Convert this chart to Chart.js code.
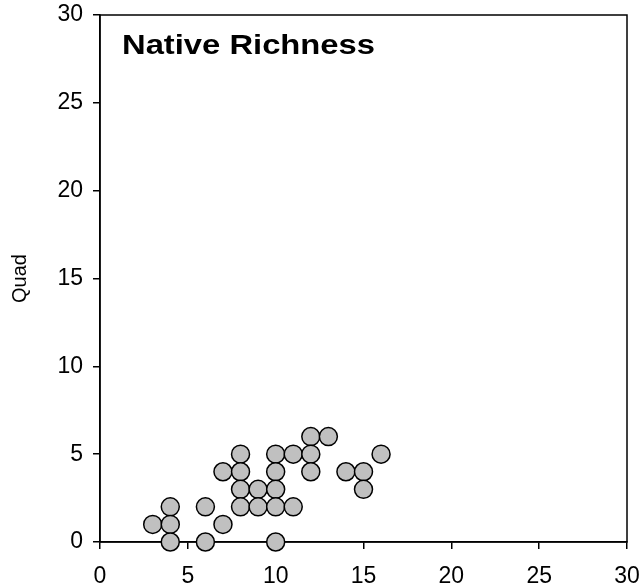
<!DOCTYPE html>
<html>
<head>
<meta charset="utf-8">
<title>Native Richness</title>
<script src="https://cdn.jsdelivr.net/npm/chart.js@4/dist/chart.umd.min.js"></script>
<style>
  html, body { margin: 0; padding: 0; background: #fff; }
  #wrap { width: 640px; height: 587px; }
</style>
</head>
<body>
<div id="wrap"><canvas id="richChart" width="640" height="587"></canvas></div>
<script>
// Native richness vs quadrat scatter

const X_VALUES = [3, 4, 4, 4, 6, 6, 7, 7, 8, 8, 8, 8, 9, 9, 10, 10, 10, 10, 10, 11, 11, 12, 12, 12, 13, 14, 15, 15, 16];
const Y_VALUES = [1, 2, 1, 0, 2, 0, 4, 1, 5, 4, 3, 2, 3, 2, 5, 4, 3, 2, 0, 5, 2, 6, 5, 4, 6, 4, 4, 3, 5];
const AXIS_MIN = 0;
const AXIS_MAX = 30;
const TICK_STEP = 5;
const PANEL_TITLE = "Native Richness";
const Y_TITLE = "Quad";

const FONT = "'Liberation Sans', Arial, Helvetica, sans-serif";

const points = X_VALUES.map((x, i) => ({ x: x, y: Y_VALUES[i] }));

// --- Plugins ---

// full box around the plot area, drawn under the markers
const framePlugin = {
  id: "frame",
  beforeDatasetsDraw(chart) {
    const { ctx, chartArea: a } = chart;
    ctx.save();
    ctx.strokeStyle = "#000";
    ctx.lineWidth = 1.5;
    ctx.strokeRect(a.left, a.top, a.right - a.left, a.bottom - a.top);
    ctx.restore();
  },
};

// bold label in the top-left corner of the panel
const panelTitlePlugin = {
  id: "panelTitle",
  afterDraw(chart) {
    const { ctx, chartArea: a } = chart;
    ctx.save();
    ctx.font = "bold 28px " + FONT;
    ctx.fillStyle = "#000";
    ctx.textBaseline = "alphabetic";
    const w = ctx.measureText(PANEL_TITLE).width;
    const sx = 253 / w;
    ctx.translate(a.left + 22, a.top + 39);
    ctx.scale(sx, 1);
    ctx.fillText(PANEL_TITLE, 0, 0);
    ctx.restore();
  },
};

// --- Chart ---

const tickOpts = {
  color: "#000",
  font: { family: FONT, size: 23 },
  stepSize: TICK_STEP,
};

const gridOpts = {
  display: true,
  drawOnChartArea: false,
  drawTicks: true,
  tickLength: 7,
  color: "#000",
  lineWidth: 1.5,
};

const ctx = document.getElementById("richChart").getContext("2d");
const richChart = new Chart(ctx, {
  type: "scatter",
  data: {
    datasets: [{
      data: points,
      backgroundColor: "#c0c0c0",
      borderColor: "#000",
      borderWidth: 1.5,
      pointRadius: 9,
      pointHoverRadius: 9,
      clip: false,
    }],
  },
  options: {
    responsive: false,
    animation: false,
    layout: { padding: { top: 15, right: 13, left: 0, bottom: 0 } },
    plugins: {
      legend: { display: false },
      tooltip: { enabled: false },
    },
    scales: {
      x: {
        type: "linear",
        min: AXIS_MIN,
        max: AXIS_MAX,
        grid: gridOpts,
        border: { display: true, color: "#000", width: 1.5 },
        ticks: { ...tickOpts, padding: 14, maxRotation: 0 },
        // labels may hang past the plot edges without shrinking it
        afterFit(scale) {
          scale.height = 45;
          scale.paddingLeft = 0;
          scale.paddingRight = 0;
        },
      },
      y: {
        type: "linear",
        min: AXIS_MIN,
        max: AXIS_MAX,
        grid: gridOpts,
        border: { display: true, color: "#000", width: 1.5 },
        ticks: { ...tickOpts, padding: 10 },
        title: {
          display: true,
          text: Y_TITLE,
          color: "#000",
          font: { family: FONT, size: 20 },
          padding: { top: 8, bottom: 0 },
        },
        afterFit(scale) {
          scale.width = 100;
          scale.paddingTop = 0;
          scale.paddingBottom = 0;
        },
      },
    },
  },
  plugins: [framePlugin, panelTitlePlugin],
});
</script>
</body>
</html>
